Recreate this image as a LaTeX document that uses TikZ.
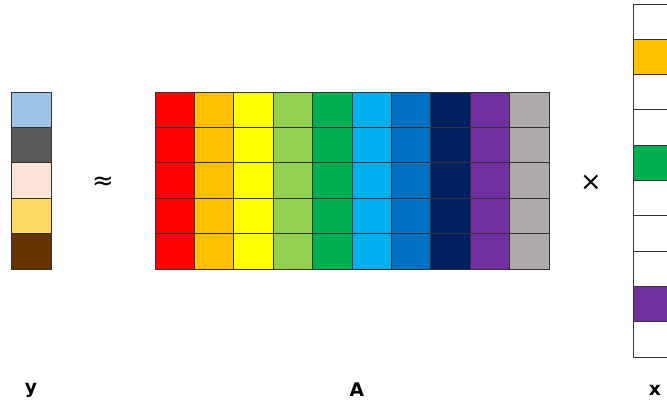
\documentclass[tikz,border=0pt]{standalone}
\usepackage{fontspec}
\setmainfont{DejaVu Sans}
\usepackage{tikz}
\usetikzlibrary{positioning}

\definecolor{ycA}{HTML}{9DC3E6}
\definecolor{ycB}{HTML}{595959}
\definecolor{ycC}{HTML}{FBE5D6}
\definecolor{ycD}{HTML}{FFD966}
\definecolor{ycE}{HTML}{663300}
\definecolor{acA}{HTML}{FF0000}
\definecolor{acB}{HTML}{FFC000}
\definecolor{acC}{HTML}{FFFF00}
\definecolor{acD}{HTML}{92D050}
\definecolor{acE}{HTML}{00B050}
\definecolor{acF}{HTML}{00B0F0}
\definecolor{acG}{HTML}{0070C0}
\definecolor{acH}{HTML}{002060}
\definecolor{acI}{HTML}{7030A0}
\definecolor{acJ}{HTML}{AEAAAA}

\begin{document}
\begin{tikzpicture}[
  x=0.03cm, y=-0.03cm,
  cell/.style={rectangle, draw=black!80, line width=0.8pt, inner sep=0pt, minimum width=1.182cm, minimum height=1.062cm},
  vcell/.style={cell, minimum width=1.2cm},
  xcell/.style={cell, minimum width=1.2cm, minimum height=1.059cm},
  lbl/.style={font=\bfseries\fontsize{16}{18}\selectfont},
  op/.style={font=\fontsize{22}{24}\selectfont}
]
\useasboundingbox (0,0) rectangle (667,405);

% vector y
\foreach \c [count=\i from 0] in {ycA,ycB,ycC,ycD,ycE}
  \node[vcell, fill=\c] (y\i) at (31, 109.7+35.4*\i) {};

% matrix A
\foreach \c [count=\j from 0] in {acA,acB,acC,acD,acE,acF,acG,acH,acI,acJ}
  \foreach \i in {0,...,4}
    \node[cell, fill=\c] (a\i\j) at (174.7+39.4*\j, 109.7+35.4*\i) {};

% vector x
\foreach \c [count=\i from 0] in {white,acB,white,white,acE,white,white,white,acI,white}
  \node[xcell, fill=\c] (x\i) at (653, 21.65+35.3*\i) {};

\node[op] (approx) at (103,183) {≈};
\node[op] (times) at (591,183) {×};

\node[lbl] (ylbl) at (31,390) {y};
\node[lbl] (albl) at (357,390) {A};
\node[lbl] (xlbl) at (655,390) {x};
\end{tikzpicture}
\end{document}
